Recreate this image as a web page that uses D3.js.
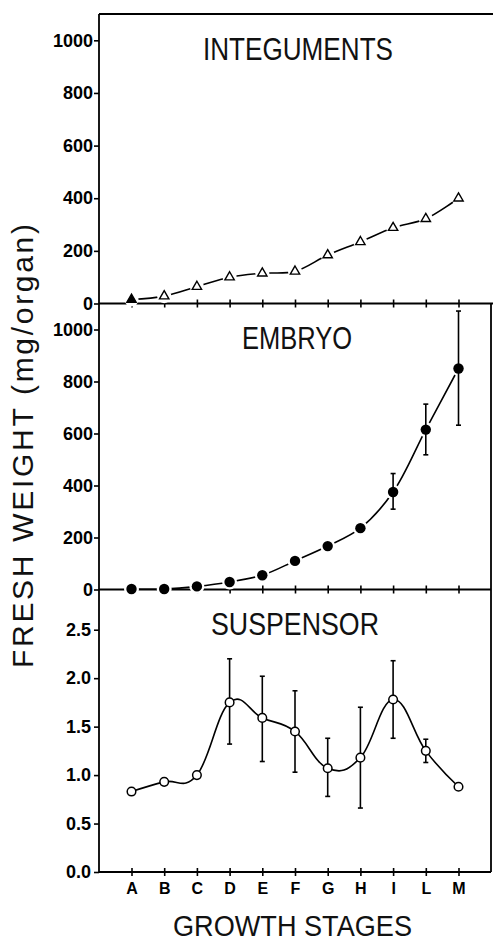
<!DOCTYPE html>
<html><head><meta charset="utf-8">
<script src="https://cdn.jsdelivr.net/npm/d3@7/dist/d3.min.js"></script>
<style>body{margin:0;background:#fff}</style>
</head><body>
<svg id="c" width="493" height="943"></svg>
<script>
const stages = ["A","B","C","D","E","F","G","H","I","L","M"];
const integuments = [15,28,64,100,115,122,184,234,288,322,400];
const embryo = [2,2,12,29,55,110,167,236,375,615,850];
const embryoLow = [null,null,null,null,null,null,null,null,309,518,632];
const embryoHigh = [null,null,null,null,null,null,null,null,446,713,1071];
const suspensor = [0.83,0.93,1.00,1.75,1.59,1.45,1.07,1.18,1.78,1.25,0.88];
const suspLow = [null,null,null,1.32,1.14,1.03,0.78,0.66,1.38,1.13,null];
const suspHigh = [null,null,null,2.20,2.02,1.87,1.38,1.70,2.18,1.37,null];
const weightTicks = [0,200,400,600,800,1000];
const suspTicks = [0,0.5,1.0,1.5,2.0,2.5];
const titles = ["INTEGUMENTS","EMBRYO","SUSPENSOR"];
const yTitle = "FRESH WEIGHT (mg/organ)";
const xTitle = "GROWTH STAGES";

const svg = d3.select("#c");
const L = 99, R = 491;
const x = d3.scalePoint().domain(stages).range([131.5, 458.5]);

const yTop = d3.scaleLinear().domain([0,1100]).range([303.5,14]);
const yMid = d3.scaleLinear().domain([0,1100]).range([589.5,303.5]);
const yBot = d3.scaleLinear().domain([0,2.915]).range([872,589.5]);

const tickFont = "'Liberation Sans', Arial, sans-serif";

// Frame
const frame = svg.append("g").attr("stroke","#000").attr("stroke-width",1.8).attr("fill","none");
frame.append("line").attr("x1",L).attr("x2",493).attr("y1",yTop.range()[1]).attr("y2",yTop.range()[1]);
frame.append("line").attr("x1",L).attr("x2",L).attr("y1",14).attr("y2",872);
frame.append("line").attr("x1",R).attr("x2",R).attr("y1",303.5).attr("y2",872);
[yTop(0), yMid(0), yBot(0)].forEach((yy,i)=>{
  frame.append("line").attr("x1",L).attr("x2",i===0?493:R).attr("y1",yy).attr("y2",yy);
});

function yAxis(scale, ticks, fmt, pad){
  const g = svg.append("g").attr("transform",`translate(${L},0)`)
    .call(d3.axisLeft(scale).tickValues(ticks).tickFormat(fmt).tickSize(5).tickPadding(pad));
  g.select(".domain").remove();
  g.selectAll(".tick line").attr("stroke-width",1.6);
  g.selectAll("text").attr("font-family",tickFont).attr("font-weight","bold")
    .attr("font-size",18).attr("fill","#000");
}
yAxis(yTop, weightTicks, d3.format("d"), 1);
yAxis(yMid, weightTicks, d3.format("d"), 1);
yAxis(yBot, suspTicks, d3.format(".1f"), 3);

function xTicks(y0, labels){
  const g = svg.append("g").attr("transform",`translate(0,${y0-4})`)
    .call(d3.axisBottom(x).tickSize(8).tickPadding(7).tickFormat(labels ? d=>d : ()=>""));
  g.select(".domain").remove();
  g.selectAll(".tick line").attr("stroke-width",1.6);
  g.selectAll("text").attr("font-family",tickFont).attr("font-weight","bold")
    .attr("font-size",16).attr("fill","#000");
}
xTicks(yTop(0), false);
xTicks(yMid(0), false);
xTicks(yBot(0), true);

// Panel titles
const titleFont = "'Liberation Sans Narrow','Liberation Sans', Arial, sans-serif";
[[titles[0],298,60,190],[titles[1],297,349,110],[titles[2],295,635,168]].forEach(([t,cx,by,len])=>{
  svg.append("text").attr("x",cx).attr("y",by).attr("text-anchor","middle")
    .attr("font-family",titleFont).attr("font-size",31).attr("fill","#111")
    .attr("textLength",len).attr("lengthAdjust","spacingAndGlyphs").text(t);
});

// Axis titles
svg.append("text").attr("transform","translate(33,446) rotate(-90)").attr("text-anchor","middle")
  .attr("font-family","'Liberation Sans', Arial, sans-serif").attr("font-size",30).attr("fill","#111")
  .attr("textLength",444).attr("lengthAdjust","spacing").text(yTitle);
svg.append("text").attr("x",292.5).attr("y",936).attr("text-anchor","middle")
  .attr("font-family",titleFont).attr("font-size",29).attr("fill","#111")
  .attr("textLength",239).attr("lengthAdjust","spacingAndGlyphs").text(xTitle);

function errorBars(g, scale, lows, highs){
  stages.forEach((s,i)=>{
    if(lows[i]==null) return;
    const cx = x(s);
    g.append("line").attr("x1",cx).attr("x2",cx).attr("y1",scale(lows[i])).attr("y2",scale(highs[i]));
    [lows[i],highs[i]].forEach(v=>{
      g.append("line").attr("x1",cx-2.5).attr("x2",cx+2.5).attr("y1",scale(v)).attr("y2",scale(v));
    });
  });
}

// Integuments
{
  const pts = stages.map((s,i)=>[x(s), yTop(integuments[i])]);
  svg.append("path").attr("d", d3.line().curve(d3.curveCatmullRom)(pts))
    .attr("fill","none").attr("stroke","#000").attr("stroke-width",1.6);
  svg.append("g").selectAll("circle").data(pts).join("circle")
    .attr("cx",d=>d[0]).attr("cy",d=>d[1]).attr("r",7).attr("fill","#fff");
  svg.append("g").selectAll("path").data(pts).join("path")
    .attr("transform",d=>`translate(${d[0]},${d[1]})`)
    .attr("d", d3.symbol(d3.symbolTriangle, 38)())
    .attr("fill",(d,i)=>i===0?"#000":"#fff").attr("stroke","#000").attr("stroke-width",1.4);
}

// Embryo
{
  const pts = stages.map((s,i)=>[x(s), yMid(embryo[i])]);
  svg.append("path").attr("d", d3.line().curve(d3.curveCatmullRom)(pts))
    .attr("fill","none").attr("stroke","#000").attr("stroke-width",1.6);
  svg.append("g").selectAll("circle").data(pts).join("circle")
    .attr("cx",d=>d[0]).attr("cy",d=>d[1]).attr("r",7.5).attr("fill","#fff");
  const eg = svg.append("g").attr("stroke","#000").attr("stroke-width",1.6);
  errorBars(eg, yMid, embryoLow, embryoHigh);
  svg.append("g").selectAll("circle").data(pts).join("circle")
    .attr("cx",d=>d[0]).attr("cy",d=>d[1]).attr("r",5.2).attr("fill","#000");
}

// Suspensor
{
  const pts = stages.map((s,i)=>[x(s), yBot(suspensor[i])]);
  svg.append("path").attr("d", d3.line().curve(d3.curveCardinal.tension(-0.2))(pts))
    .attr("fill","none").attr("stroke","#000").attr("stroke-width",1.6);
  const eg = svg.append("g").attr("stroke","#000").attr("stroke-width",1.6);
  errorBars(eg, yBot, suspLow, suspHigh);
  svg.append("g").selectAll("circle").data(pts).join("circle")
    .attr("cx",d=>d[0]).attr("cy",d=>d[1]).attr("r",4.3).attr("fill","#fff")
    .attr("stroke","#000").attr("stroke-width",1.5);
}
</script>
</body></html>
